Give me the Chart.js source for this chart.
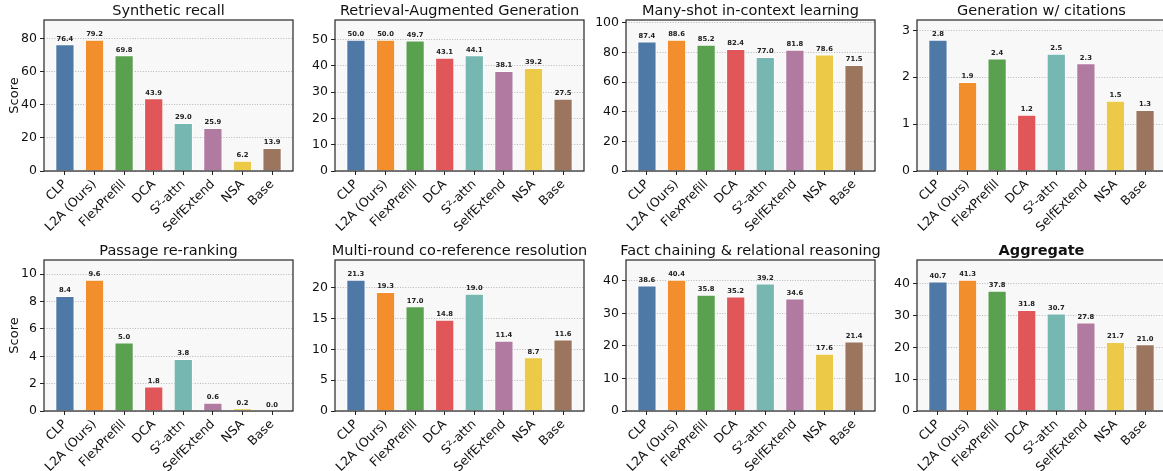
<!DOCTYPE html>
<html>
<head>
<meta charset="utf-8">
<script src="https://cdn.jsdelivr.net/npm/chart.js@4.4.1/dist/chart.umd.min.js"></script>
<style>
  html, body { margin: 0; padding: 0; background: #fff; width: 1163px; height: 471px; overflow: hidden; position: relative; }
  canvas { position: absolute; }
</style>
</head>
<body>
<script>
// Methods compared in every panel
const methods = ['CLP', 'L2A (Ours)', 'FlexPrefill', 'DCA', 'S\u00B2-attn', 'SelfExtend', 'NSA', 'Base'];
const methodColors = ['#4e79a7', '#f28e2b', '#59a14f', '#e15759', '#76b7b2', '#b07aa1', '#edc948', '#9c755f'];

// Scores per task
const syntheticRecall = [76.4, 79.2, 69.8, 43.9, 29.0, 25.9, 6.2, 13.9];
const ragScores       = [50.0, 50.0, 49.7, 43.1, 44.1, 38.1, 39.2, 27.5];
const iclScores       = [87.4, 88.6, 85.2, 82.4, 77.0, 81.8, 78.6, 71.5];
const citationScores  = [2.8, 1.9, 2.4, 1.2, 2.5, 2.3, 1.5, 1.3];
const rerankScores    = [8.4, 9.6, 5.0, 1.8, 3.8, 0.6, 0.2, 0.0];
const corefScores     = [21.3, 19.3, 17.0, 14.8, 19.0, 11.4, 8.7, 11.6];
const factChainScores = [38.6, 40.4, 35.8, 35.2, 39.2, 34.6, 17.6, 21.4];
const aggregateScores = [40.7, 41.3, 37.8, 31.8, 30.7, 27.8, 21.7, 21.0];

// Y tick labels per panel
const ticksSynthetic = [0, 20, 40, 60, 80];
const ticksRag       = [0, 10, 20, 30, 40, 50];
const ticksIcl       = [0, 20, 40, 60, 80, 100];
const ticksCitation  = [0, 1, 2, 3];
const ticksRerank    = [0, 2, 4, 6, 8, 10];
const ticksCoref     = [0, 5, 10, 15, 20];
const ticksFactChain = [0, 10, 20, 30, 40];
const ticksAggregate = [0, 10, 20, 30, 40];

const panels = [
  { title: 'Synthetic recall', values: syntheticRecall, ticks: ticksSynthetic },
  { title: 'Retrieval-Augmented Generation', values: ragScores, ticks: ticksRag },
  { title: 'Many-shot in-context learning', values: iclScores, ticks: ticksIcl },
  { title: 'Generation w/ citations', values: citationScores, ticks: ticksCitation },
  { title: 'Passage re-ranking', values: rerankScores, ticks: ticksRerank },
  { title: 'Multi-round co-reference resolution', values: corefScores, ticks: ticksCoref },
  { title: 'Fact chaining & relational reasoning', values: factChainScores, ticks: ticksFactChain },
  { title: 'Aggregate', values: aggregateScores, ticks: ticksAggregate, bold: true }
];

// Grid geometry (plot areas)
const colLeft = [44, 335, 626, 917];
const rowTop = [20, 260];
const plotW = 249, plotH = 151;
const sideW = 44, xAxisH = 70, titleH = 24;
const FONT = "'DejaVu Sans', sans-serif";

// Plot background, frame and value labels
const framePlugin = {
  id: 'frame',
  beforeDraw(chart) {
    const { ctx, chartArea: a } = chart;
    ctx.save();
    ctx.fillStyle = '#f8f8f8';
    ctx.fillRect(a.left, a.top, a.right - a.left, a.bottom - a.top);
    ctx.restore();
  },
  afterDatasetsDraw(chart) {
    const { ctx, chartArea: a } = chart;
    const ds = chart.data.datasets[0];
    const meta = chart.getDatasetMeta(0);
    ctx.save();
    ctx.font = 'bold 6.8px ' + FONT;
    ctx.fillStyle = '#222';
    ctx.textAlign = 'center';
    ctx.textBaseline = 'bottom';
    meta.data.forEach((bar, i) => {
      ctx.fillText(ds.data[i].y.toFixed(1), bar.x, bar.y - 2);
    });
    ctx.strokeStyle = '#262626';
    ctx.lineWidth = 1.2;
    ctx.strokeRect(a.left, a.top, a.right - a.left, a.bottom - a.top);
    ctx.restore();
  }
};

panels.forEach((p, idx) => {
  const col = idx % 4, row = Math.floor(idx / 4);
  const canvas = document.createElement('canvas');
  // equal side margins keep the title centred over the plot area
  const w = sideW + plotW + sideW;
  const h = titleH + plotH + xAxisH;
  canvas.width = w;
  canvas.height = h;
  canvas.style.left = (colLeft[col] - sideW) + 'px';
  canvas.style.top = (rowTop[row] - titleH) + 'px';
  document.body.appendChild(canvas);

  const yMax = Math.max(...p.values) * 1.15;

  new Chart(canvas, {
    type: 'bar',
    data: {
      datasets: [{
        data: p.values.map((v, i) => ({ x: i, y: v })),
        backgroundColor: methodColors,
        borderColor: 'rgba(255,255,255,0.85)',
        borderWidth: 1,
        categoryPercentage: 1,
        barPercentage: 0.65
      }]
    },
    options: {
      responsive: false,
      animation: false,
      devicePixelRatio: 1,
      layout: { padding: 0 },
      plugins: {
        legend: { display: false },
        tooltip: { enabled: false },
        title: {
          display: true,
          text: p.title,
          color: '#111',
          font: { family: FONT, size: 14.5, weight: p.bold ? 'bold' : 'normal', lineHeight: 1.2 },
          padding: { top: 6.6, bottom: 0 }
        }
      },
      scales: {
        x: {
          type: 'linear',
          offset: false,
          min: -0.7075,
          max: 7.7075,
          afterBuildTicks: s => { s.ticks = methods.map((_, i) => ({ value: i })); },
          afterFit: s => { s.height = xAxisH; },
          border: { display: false },
          grid: { offset: false, drawOnChartArea: false, drawTicks: true, tickLength: 4, tickColor: '#222', tickWidth: 1 },
          ticks: {
            autoSkip: false,
            minRotation: 45,
            maxRotation: 45,
            padding: 2,
            color: '#111',
            font: { family: FONT, size: 12.5 },
            callback: v => methods[v]
          }
        },
        y: {
          min: 0,
          max: yMax,
          afterBuildTicks: s => { s.ticks = p.ticks.map(v => ({ value: v })); },
          afterFit: s => { s.width = sideW; },
          border: { display: false, dash: [1, 1.6] },
          grid: {
            color: 'rgba(140,140,140,0.75)',
            lineWidth: 0.8,
            tickBorderDash: [],
            tickColor: '#222',
            tickLength: 4,
            tickWidth: 1
          },
          ticks: {
            padding: 3,
            color: '#111',
            font: { family: FONT, size: 12.5 },
            callback: v => String(v)
          },
          title: {
            display: col === 0,
            text: 'Score',
            color: '#111',
            font: { family: FONT, size: 13 },
            padding: { top: 7, bottom: 0 }
          }
        },
        // empty right-hand margin, same width as the left axis
        yRight: {
          position: 'right',
          min: 0,
          max: yMax,
          afterFit: s => { s.width = sideW; },
          border: { display: false },
          grid: { display: false, drawTicks: false },
          ticks: { display: false }
        }
      }
    },
    plugins: [framePlugin]
  });
});
</script>
</body>
</html>
